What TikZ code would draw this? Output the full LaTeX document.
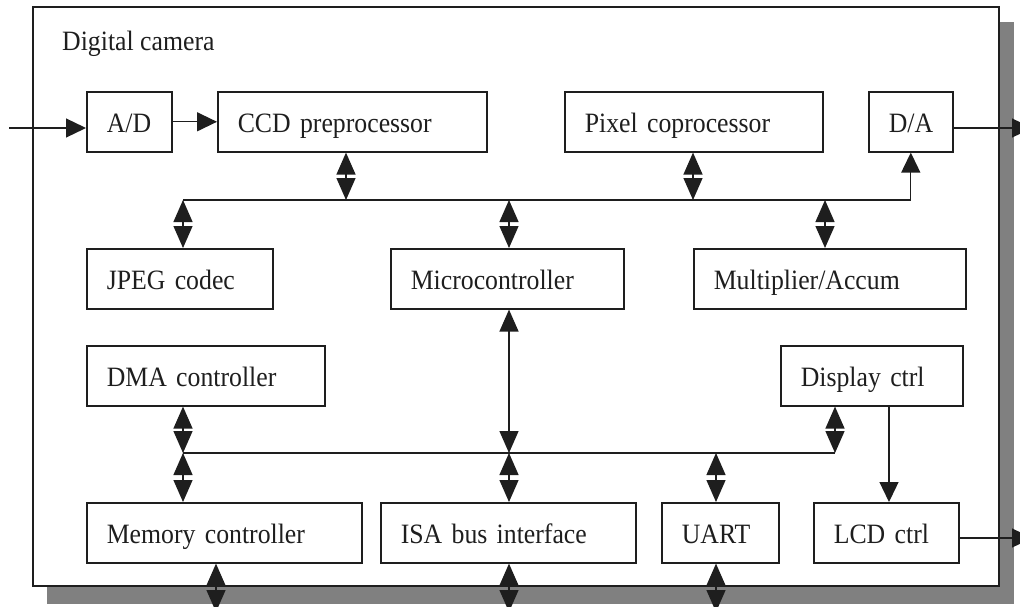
\documentclass[tikz,border=0pt]{standalone}
\usepackage{fontspec}
\setmainfont{Liberation Serif}[FakeStretch=0.92]
\usetikzlibrary{arrows.meta}
\definecolor{shadowgray}{RGB}{128,128,128}
\definecolor{ink}{RGB}{30,30,30}
\begin{document}
\begin{tikzpicture}[x=1pt,y=-1pt,
  blk/.style={draw=ink, line width=1.6pt, anchor=north west, inner xsep=20pt, inner ysep=0pt,
    minimum height=60pt, align=left, text height=26pt, text depth=5pt,
    font=\fontsize{28}{32}\selectfont, text=ink},
  con/.style={draw=ink, line width=1.3pt},
  tip/.style={-{Triangle[width=19pt,length=20pt]}},
  dbl/.style={{Triangle[width=19pt,length=22pt]}-{Triangle[width=19pt,length=22pt]}}
]
\useasboundingbox (0,0) rectangle (1020,607);
% frame with shadow
\fill[shadowgray] (47,22) rectangle (1014,604);
\draw[fill=white, draw=ink, line width=1.7pt] (33,7) rectangle (999,586);
\node[anchor=base west, inner sep=0pt, font=\fontsize{28}{32}\selectfont, text=ink] (title) at (62,51) {Digital camera};

% blocks
\node[blk, text width=45pt]  (ad)   at (86,91)   {A/D};
\node[blk, text width=229pt] (ccd)  at (217,91)  {CCD preprocessor};
\node[blk, text width=218pt] (pix)  at (564,91)  {Pixel coprocessor};
\node[blk, text width=44pt]  (da)   at (868,91)  {D/A};
\node[blk, text width=146pt] (jpeg) at (86,248)  {JPEG codec};
\node[blk, text width=193pt] (mc)   at (390,248) {Microcontroller};
\node[blk, text width=232pt] (mult) at (693,248) {Multiplier/Accum};
\node[blk, text width=198pt] (dma)  at (86,345)  {DMA controller};
\node[blk, text width=142pt] (disp) at (780,345) {Display ctrl};
\node[blk, text width=235pt] (mem)  at (86,502)  {Memory controller};
\node[blk, text width=215pt] (isa)  at (380,502) {ISA bus interface};
\node[blk, text width=77pt]  (uart) at (661,502) {UART};
\node[blk, text width=105pt] (lcd)  at (813,502) {LCD ctrl};

% upper bus
\coordinate (ub1) at (183,200);
\coordinate (tccd) at (346,200);
\coordinate (tmc) at (509,200);
\coordinate (tpix) at (693,200);
\coordinate (tmul) at (825,200);
\coordinate (ubR) at (da.south |- ub1);
\draw[con] (ub1) -- (ubR);
\draw[con,tip] (ubR) -- (da.south);
\draw[con,dbl] (ccd.south -| tccd) -- (tccd);
\draw[con,dbl] (pix.south -| tpix) -- (tpix);
\draw[con,dbl] (ub1) -- (jpeg.north -| ub1);
\draw[con,dbl] (tmc) -- (mc.north -| tmc);
\draw[con,dbl] (tmul) -- (mult.north -| tmul);

% lower bus
\coordinate (lb1) at (183,453);
\coordinate (lbmc) at (509,453);
\coordinate (lbuart) at (716,453);
\coordinate (lbR) at (835,453);
\draw[con] (lb1) -- (lbR);
\draw[con,dbl] (dma.south -| lb1) -- (lb1);
\draw[con,dbl] (lb1) -- (mem.north -| lb1);
\draw[con,dbl] (mc.south -| lbmc) -- (lbmc);
\draw[con,dbl] (lbmc) -- (isa.north -| lbmc);
\draw[con,dbl] (lbuart) -- (uart.north -| lbuart);
\draw[con,dbl] (disp.south -| lbR) -- (lbR);

% display to LCD
\coordinate (dl) at (889,404);
\draw[con,tip] (disp.south -| dl) -- (lcd.north -| dl);

% external connections
\coordinate (inp) at (9,128);
\draw[con,tip] (inp) -- (inp -| ad.west);
\draw[con,tip] (ad.east) -- (ccd.west);
\coordinate (daout) at (1032,128);
\draw[con,tip] (da.east |- daout) -- (daout);
\coordinate (lcdout) at (1032,538);
\draw[con,tip] (lcd.east |- lcdout) -- (lcdout);

% bottom connections leaving the frame
\coordinate (bmem) at (216,612);
\coordinate (bisa) at (509,612);
\coordinate (buart) at (716,612);
\draw[con,dbl] (mem.south -| bmem) -- (bmem);
\draw[con,dbl] (isa.south -| bisa) -- (bisa);
\draw[con,dbl] (uart.south -| buart) -- (buart);
\end{tikzpicture}
\end{document}
